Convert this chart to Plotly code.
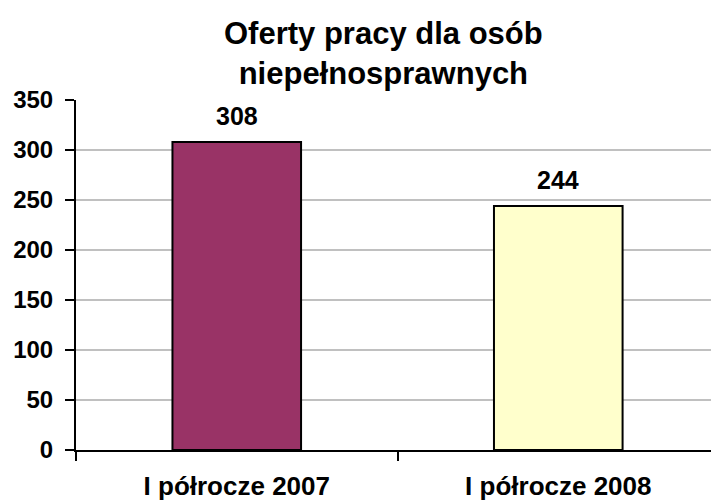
import plotly.graph_objects as go

categories = ["I półrocze 2007", "I półrocze 2008"]
values = [308, 244]
bar_colors = ["#993366", "#FFFFCC"]
y_ticks = [0, 50, 100, 150, 200, 250, 300, 350]
title_text = "Oferty pracy dla osób<br>niepełnosprawnych"

FONT = "Liberation Sans, Arial, sans-serif"

fig = go.Figure(
    go.Bar(
        x=categories,
        y=values,
        width=0.4,
        marker=dict(color=bar_colors, line=dict(color="black", width=2)),
        hoverinfo="skip",
    )
)

# value labels above each bar
for cat, val in zip(categories, values):
    fig.add_annotation(
        x=cat, y=val, text=f"<b>{val}</b>", showarrow=False,
        yanchor="bottom", yshift=10,
        font=dict(family=FONT, size=25, color="black"),
    )

# chart title, two centred lines above the plot area
fig.add_annotation(
    text=f"<b>{title_text}</b>", showarrow=False,
    xref="paper", yref="paper", x=0.484, xanchor="center",
    y=1.245, yanchor="top", align="center",
    font=dict(family=FONT, size=31, color="black"),
)

fig.update_layout(
    width=711, height=502,
    margin=dict(l=76, r=0, t=100, b=52),
    paper_bgcolor="white", plot_bgcolor="white",
    showlegend=False,
    xaxis=dict(
        type="category",
        range=[-0.5, 1.475],
        tickson="boundaries",
        tickmode="array", tickvals=categories,
        ticktext=[f"<b>{c}</b>" for c in categories],
        ticks="outside", ticklen=9, tickwidth=2, tickcolor="black",
        showline=True, linecolor="black", linewidth=2,
        showgrid=False,
        tickfont=dict(family=FONT, size=26, color="black"),
        ticklabelstandoff=12,
    ),
    yaxis=dict(
        range=[0, 350],
        tickmode="array", tickvals=y_ticks,
        ticktext=[f"<b>{v}</b>" for v in y_ticks],
        ticks="outside", ticklen=9, tickwidth=2, tickcolor="black",
        showline=True, linecolor="black", linewidth=2,
        showgrid=True, gridcolor="#C0C0C0", gridwidth=2,
        zeroline=False,
        tickfont=dict(family=FONT, size=24, color="black"),
        ticklabelstandoff=7,
    ),
)

fig.write_html("out.html")
